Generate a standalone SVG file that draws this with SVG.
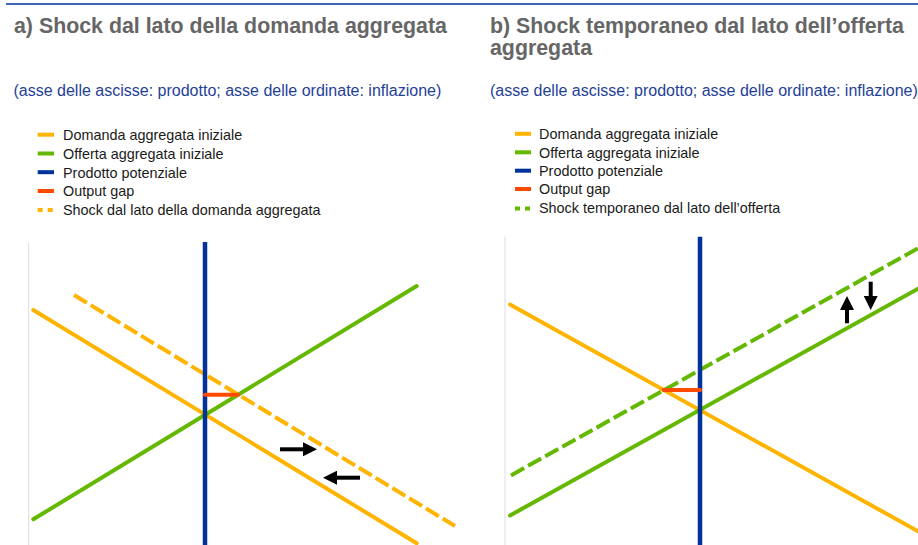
<svg xmlns="http://www.w3.org/2000/svg" width="918" height="545" viewBox="0 0 918 545">
<style>
  .title { font-family: "Liberation Sans", Arial, sans-serif; font-size: 21.35px; font-weight: bold; fill: #666666; }
  .sub { font-family: "Liberation Sans", Arial, sans-serif; font-size: 16px; fill: #1f3f99; }
  .leg { font-family: "Liberation Sans", Arial, sans-serif; font-size: 14.4px; fill: #1a1a1a; }
  .sw { stroke-width: 4; fill: none; }
  .ad { stroke: #ffb400; }
  .as { stroke: #65b800; }
  .pp { stroke: #003299; }
  .og { stroke: #ff4b00; }
  .line { stroke-width: 4; fill: none; stroke-linecap: round; }
  .dash { stroke-width: 4; fill: none; stroke-dasharray: 15 4.6; }
  .swdash { stroke-dasharray: 5 5; }
  .axis { stroke: #dddddd; stroke-width: 1; }
  .pot { stroke: #003299; stroke-width: 4.5; }
  .gap { stroke: #ff4b00; stroke-width: 4; stroke-linecap: round; }
  .arr { stroke: #000000; stroke-width: 4; fill: none; }
</style>
<defs>
  <marker id="head" viewBox="0 0 14 14" markerWidth="14" markerHeight="14" refX="0.5" refY="7" orient="auto" markerUnits="userSpaceOnUse">
    <path d="M0,0 L14,7 L0,14 Z" fill="#000000"/>
  </marker>
</defs>
<rect width="918" height="545" fill="#ffffff"/>
<line x1="6" y1="4" x2="918" y2="4" stroke="#003299" stroke-width="1.6"/>

<g id="panel-a">
  <text class="title" x="14" y="33.3">a) Shock dal lato della domanda aggregata</text>
  <text class="sub" x="13.5" y="95.5">(asse delle ascisse: prodotto; asse delle ordinate: inflazione)</text>
  <g id="legend-a">
    <line class="sw ad" x1="37.7" y1="134.7" x2="54" y2="134.7"/>
    <text class="leg" x="63" y="140">Domanda aggregata iniziale</text>
    <line class="sw as" x1="37.7" y1="153.5" x2="54" y2="153.5"/>
    <text class="leg" x="63" y="158.8">Offerta aggregata iniziale</text>
    <line class="sw pp" x1="37.7" y1="172.2" x2="54" y2="172.2"/>
    <text class="leg" x="63" y="177.6">Prodotto potenziale</text>
    <line class="sw og" x1="37.7" y1="191" x2="54" y2="191"/>
    <text class="leg" x="63" y="196.4">Output gap</text>
    <line class="sw ad swdash" x1="37.7" y1="210" x2="54" y2="210"/>
    <text class="leg" x="63" y="215.2">Shock dal lato della domanda aggregata</text>
  </g>
  <g id="chart-a">
    <line class="axis" x1="28.7" y1="243" x2="28.7" y2="545"/>
    <line class="line ad" x1="33.3" y1="310" x2="416.7" y2="543.3"/>
    <line class="line as" x1="33.3" y1="519.3" x2="416.7" y2="286"/>
    <line class="dash ad" x1="74" y1="295" x2="455" y2="526"/>
    <line class="pot" x1="205" y1="242" x2="205" y2="545"/>
    <line class="gap" x1="205" y1="394.7" x2="238" y2="394.7"/>
    <line class="arr" x1="280" y1="449.3" x2="303.5" y2="449.3" marker-end="url(#head)"/>
    <line class="arr" x1="360" y1="477.7" x2="336.5" y2="477.7" marker-end="url(#head)"/>
  </g>
</g>

<g id="panel-b">
  <text class="title" x="490" y="33.3">b) Shock temporaneo dal lato dell’offerta</text>
  <text class="title" x="490" y="55.3">aggregata</text>
  <text class="sub" x="490" y="95.5">(asse delle ascisse: prodotto; asse delle ordinate: inflazione)</text>
  <g id="legend-b">
    <line class="sw ad" x1="515" y1="133.8" x2="531" y2="133.8"/>
    <text class="leg" x="539" y="139">Domanda aggregata iniziale</text>
    <line class="sw as" x1="515" y1="152.3" x2="531" y2="152.3"/>
    <text class="leg" x="539" y="157.5">Offerta aggregata iniziale</text>
    <line class="sw pp" x1="515" y1="170.7" x2="531" y2="170.7"/>
    <text class="leg" x="539" y="175.9">Prodotto potenziale</text>
    <line class="sw og" x1="515" y1="189" x2="531" y2="189"/>
    <text class="leg" x="539" y="194.3">Output gap</text>
    <line class="sw as swdash" x1="515" y1="208.5" x2="531" y2="208.5"/>
    <text class="leg" x="539" y="212.7">Shock temporaneo dal lato dell’offerta</text>
  </g>
  <g id="chart-b">
    <line class="axis" x1="505" y1="236.7" x2="505" y2="545"/>
    <line class="line ad" x1="510" y1="304.5" x2="920" y2="532.4"/>
    <line class="line as" x1="510" y1="515.5" x2="920" y2="287.6"/>
    <line class="dash as" x1="511" y1="475.4" x2="920" y2="247.2"/>
    <line class="pot" x1="700" y1="236.7" x2="700" y2="545"/>
    <line class="gap" x1="663.5" y1="390" x2="700" y2="390"/>
    <line class="arr" x1="847" y1="323.3" x2="847" y2="309.5" marker-end="url(#head)"/>
    <line class="arr" x1="870.7" y1="281.7" x2="870.7" y2="296.5" marker-end="url(#head)"/>
  </g>
</g>
</svg>
